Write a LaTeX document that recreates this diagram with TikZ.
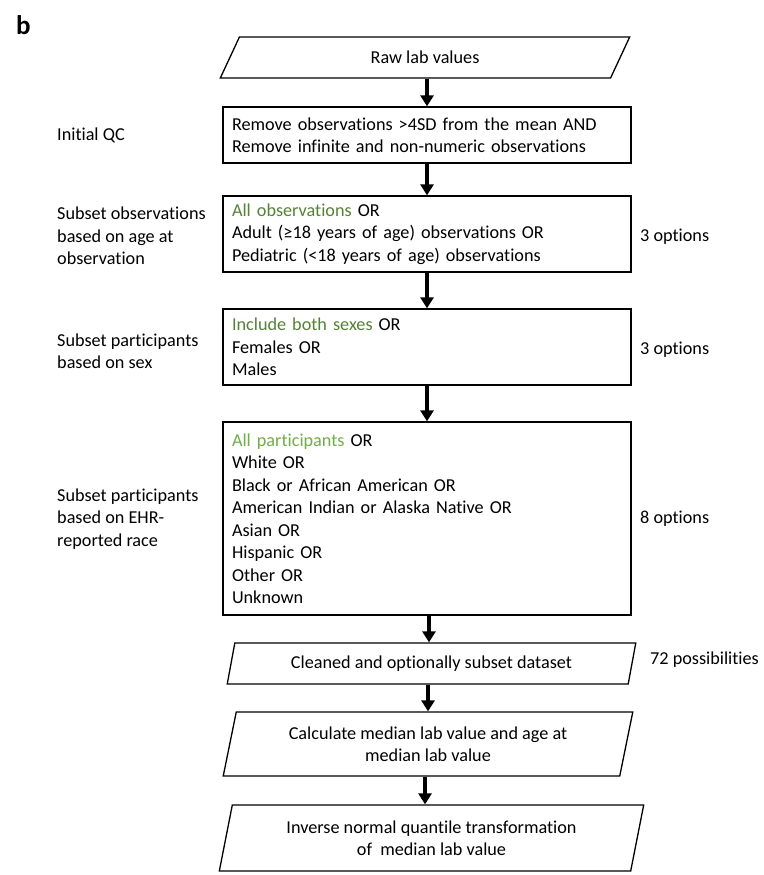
\documentclass[tikz,border=0pt]{standalone}
\usepackage{fontspec}
\setmainfont{Carlito}[RawFeature=-liga]
\usetikzlibrary{arrows.meta,positioning,shapes.geometric}
\definecolor{darkgreen}{RGB}{84,130,53}
\definecolor{lightgreen}{RGB}{112,173,71}

\begin{document}
\begin{tikzpicture}[x=1pt,y=-1pt,
  every node/.style={font=\fontsize{18.2}{22.5}\selectfont},
  stepbox/.style={draw,line width=1.3pt,text width=390pt,inner xsep=9pt,align=left},
  io/.style={draw,line width=1.3pt,trapezium,trapezium stretches=true,align=center},
  sidelabel/.style={anchor=west,align=left,inner sep=0pt},
  flow/.style={line width=3.5pt,-{Triangle[width=13pt,length=11pt]}}]
  \useasboundingbox (0,0) rectangle (763,875);

  \node[anchor=west,inner sep=0pt,font=\bfseries\fontsize{27}{27}\selectfont] (panel) at (16,25) {b};

  % main column
  \node[io,trapezium left angle=73,trapezium right angle=107,minimum width=410pt,minimum height=41pt] (raw) at (425,57.5) {Raw lab values};
  \node[stepbox,minimum height=56pt] (qc) at (427,135) {Remove observations >4SD from the mean AND\\Remove infinite and non-numeric observations};
  \node[stepbox,minimum height=76pt] (age) at (427,234) {\textcolor{darkgreen}{All observations} OR\\Adult (≥18 years of age) observations OR\\Pediatric (<18 years of age) observations};
  \node[stepbox,minimum height=76pt] (sex) at (427,347) {\textcolor{darkgreen}{Include both sexes} OR\\Females OR\\Males};
  \node[stepbox,minimum height=193pt] (race) at (427,518.5) {\textcolor{lightgreen}{All participants} OR\\White OR\\Black or African American OR\\American Indian or Alaska Native OR\\Asian OR\\Hispanic OR\\Other OR\\Unknown};
  \node[io,trapezium left angle=76,trapezium right angle=104,minimum width=409pt,minimum height=41pt] (clean) at (431.5,663.5) {Cleaned and optionally subset dataset};
  \node[io,trapezium left angle=77,trapezium right angle=103,minimum width=410pt,minimum height=64pt] (median) at (428,744) {Calculate median lab value and age at\\median lab value};
  \node[io,trapezium left angle=77,trapezium right angle=103,minimum width=425pt,minimum height=66pt] (inorm) at (431.5,838) {Inverse normal quantile transformation\\of~ median lab value};

  % side labels
  \node[sidelabel] (lqc) at (57,135) {Initial QC};
  \node[sidelabel] (lage) at (57,236) {Subset observations\\based on age at\\observation};
  \node[sidelabel] (lsex) at (57,351) {Subset participants\\based on sex};
  \node[sidelabel] (lrace) at (57,519) {Subset participants\\based on EHR-\\reported race};
  \node[sidelabel] (nage) at (640,237) {3 options};
  \node[sidelabel] (nsex) at (640,350) {3 options};
  \node[sidelabel] (nrace) at (640,519) {8 options};
  \node[sidelabel] (nclean) at (650,660) {72 possibilities};

  % arrows
  \draw[flow] (raw.south -| qc.north) -- (qc.north);
  \draw[flow] (qc) -- (age);
  \draw[flow] (age) -- (sex);
  \draw[flow] (sex) -- (race);
  \draw[flow] ([xshift=2pt]race.south) -- ([xshift=2pt]race.south |- clean.north);
  \draw[flow] (clean.south -| median.north) -- (median.north);
  \draw[flow] ([xshift=-3pt]median.south) -- ([xshift=-3pt]median.south |- inorm.north);
\end{tikzpicture}
\end{document}
